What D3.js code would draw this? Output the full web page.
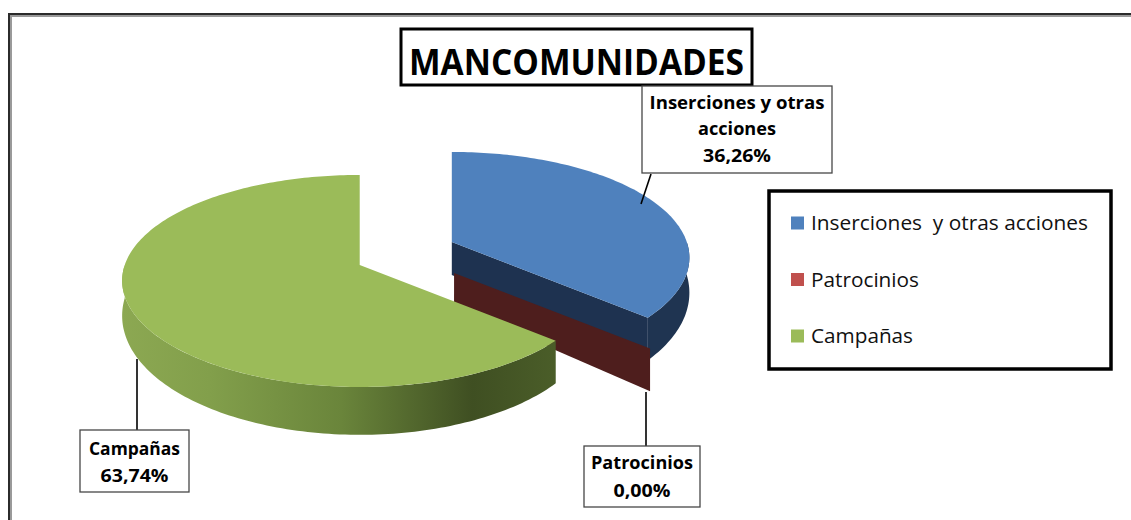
<!DOCTYPE html>
<html>
<head>
<meta charset="utf-8">
<script src="https://cdn.jsdelivr.net/npm/d3@7"></script>
<style>
html, body { margin: 0; padding: 0; background: #fff; }
svg { display: block; }
text { font-family: "Open Sans", "DejaVu Sans", sans-serif; fill: #000; }
</style>
</head>
<body>
<div id="chart"></div>
<script>
// data
var categories = ["Inserciones  y otras acciones", "Patrocinios", "Campañas"];
var values = [36.26, 0.00, 63.74];
var labelNames = [["Inserciones y otras", "acciones"], ["Patrocinios"], ["Campañas"]];
var title = "MANCOMUNIDADES";

var width = 1131;
var height = 520;
var svg = d3.select('#chart')
    .append("svg")
    .attr("width", width)
    .attr("height", height);

var topColors = ["#4f81bd", "#c0504d", "#9bbb59"];
var sideColors = ["#1f3451", "#4d1e1e", "url(#greenSide)"];
var wallColors = ["#1e3250", "#4e1e1d", "#5f7a34"];

// outer frame (runs off the right and bottom edge)
svg.append('rect')
    .attr('x', 9).attr('y', 14)
    .attr('width', 1300).attr('height', 700)
    .style('fill', '#fff')
    .style('stroke', '#2b2b2b')
    .style('stroke-width', 2);
svg.append('path')
    .attr('d', 'M11,600V16H1300')
    .style('fill', 'none')
    .style('stroke', '#9a9a9a')
    .style('stroke-width', 2);

var defs = svg.append('defs');
var grad = defs.append('linearGradient')
    .attr('id', 'greenSide')
    .attr('gradientUnits', 'userSpaceOnUse')
    .attr('x1', 122).attr('x2', 560).attr('y1', 0).attr('y2', 0);
[[0, "#8ca852"], [0.2, "#829f4b"], [0.5, "#6a853b"], [0.8, "#3f4f22"], [1, "#4b5e29"]].forEach(function (s) {
    grad.append('stop').attr('offset', s[0]).attr('stop-color', s[1]);
});

// 3d pie geometry (p = perspective of the disc, pe = perspective of the explosion)
var geo = { cx: 410, cy: 252.5, rx: 235, ry: 106, p: 0.15, depth: 33, pd: 0.45, explode: 50.7, squash: 0.543, pe: 0.22 };

function proj(c, r, a, z) {
    var u = r * Math.sin(a), v = -r * Math.cos(a);
    var k = 1 + geo.p * v;
    return [c[0] + geo.rx * u * k, c[1] + geo.ry * v * k + z * geo.depth * (1 + geo.pd * v)];
}
function arcPts(c, a0, a1, z) {
    var n = Math.max(2, Math.ceil(Math.abs(a1 - a0) / 0.02));
    return d3.range(n + 1).map(function (i) { return proj(c, 1, a0 + (a1 - a0) * i / n, z); });
}
var line = d3.line();

var arcs = d3.pie().sort(null).value(function (d) { return d; })(values);

var pieGroup = svg.append('g').classed('pie', true);

arcs.forEach(function (d, i) {
    var mid = (d.startAngle + d.endAngle) / 2;
    var ke = 1 - geo.pe * Math.cos(mid);
    var c = [geo.cx + geo.explode * Math.sin(mid) * ke, geo.cy - geo.explode * Math.cos(mid) * geo.squash * ke];
    var g = pieGroup.append('g').classed('slice', true);

    // outer side, front half only
    var s0 = Math.max(d.startAngle, Math.PI / 2), s1 = Math.min(d.endAngle, 3 * Math.PI / 2);
    if (s1 > s0) {
        var pts = arcPts(c, s0, s1, 0).concat(arcPts(c, s1, s0, 1));
        g.append('path')
            .attr('d', line(pts) + 'Z')
            .style('fill', sideColors[i]);
    }
    // cut walls facing the viewer
    var walls = [];
    if (Math.sin(d.endAngle) > 0.01) walls.push(d.endAngle);
    if (Math.sin(d.startAngle) < -0.01) walls.push(d.startAngle);
    walls.forEach(function (a) {
        var w = [proj(c, 0, a, 0), proj(c, 1, a, 0), proj(c, 1, a, 1), proj(c, 0, a, 1)];
        g.append('path')
            .attr('d', line(w) + 'Z')
            .style('fill', wallColors[i]);
    });
    // top face
    if (d.endAngle - d.startAngle > 0.001) {
        var top = [c].concat(arcPts(c, d.startAngle, d.endAngle, 0));
        g.append('path')
            .attr('d', line(top) + 'Z')
            .style('fill', topColors[i]);
    }
});

// title
svg.append('rect')
    .attr('x', 401).attr('y', 29)
    .attr('width', 351).attr('height', 56)
    .style('fill', '#fff')
    .style('stroke', '#000')
    .style('stroke-width', 3);
svg.append('text')
    .text(title)
    .attr('x', 576.5).attr('y', 75)
    .attr('text-anchor', 'middle')
    .attr('textLength', 335)
    .attr('lengthAdjust', 'spacingAndGlyphs')
    .style('font-size', '36px')
    .style('font-weight', 'bold');

// data labels
var pctFormat = function (v) { return d3.format(".2f")(v).replace('.', ',') + '%'; };
var labelBoxes = [
    { x: 642, y: 86, w: 190, h: 87, cx: 737, base: [109, 135, 162], leader: [[651, 174], [641, 204]] },
    { x: 584, y: 446, w: 116, h: 61, cx: 642, base: [469, 497], leader: [[646, 392], [646, 446]] },
    { x: 80, y: 430, w: 109, h: 62, cx: 134.5, base: [455, 482], leader: [[137, 359], [137, 430]] }
];
var textWidths = { "Inserciones y otras": 175, "acciones": 78, "36,26%": 68, "Patrocinios": 102, "0,00%": 57, "Campañas": 91, "63,74%": 68 };

var labelsGroup = svg.append('g').classed('labels', true);
labelBoxes.forEach(function (b, i) {
    labelsGroup.append('path')
        .attr('d', line(b.leader))
        .style('stroke', '#000')
        .style('stroke-width', 1.6);
    labelsGroup.append('rect')
        .attr('x', b.x).attr('y', b.y)
        .attr('width', b.w).attr('height', b.h)
        .style('fill', '#fff')
        .style('stroke', '#474747')
        .style('stroke-width', 1.3);
    var lines = labelNames[i].concat([pctFormat(values[i])]);
    lines.forEach(function (t, j) {
        labelsGroup.append('text')
            .text(t)
            .attr('x', b.cx).attr('y', b.base[j])
            .attr('text-anchor', 'middle')
            .attr('textLength', textWidths[t])
            .attr('lengthAdjust', 'spacingAndGlyphs')
            .style('font-size', '17px')
            .style('font-weight', 'bold');
    });
});

// legend
var legendGroup = svg.append('g').classed('legend', true);
legendGroup.append('rect')
    .attr('x', 769).attr('y', 191)
    .attr('width', 342).attr('height', 178)
    .style('fill', '#fff')
    .style('stroke', '#000')
    .style('stroke-width', 3.5);
var legendY = d3.scalePoint().domain(categories).range([223, 336]);
var legendWidths = [277, 108, 102];
var legItems = legendGroup.selectAll('.leg')
    .data(categories)
    .enter()
    .append('g')
    .classed('leg', true);
legItems.append('rect')
    .attr('x', 791)
    .attr('y', function (d) { return legendY(d) - 6.5; })
    .attr('width', 13).attr('height', 13)
    .style('fill', function (d, i) { return topColors[i]; });
legItems.append('text')
    .text(function (d) { return d; })
    .attr('x', 811)
    .attr('y', function (d) { return legendY(d) + 7; })
    .attr('textLength', function (d, i) { return legendWidths[i]; })
    .attr('lengthAdjust', 'spacingAndGlyphs')
    .style('white-space', 'pre')
    .style('font-size', '20px')
    .style('fill', '#111');
</script>
</body>
</html>
